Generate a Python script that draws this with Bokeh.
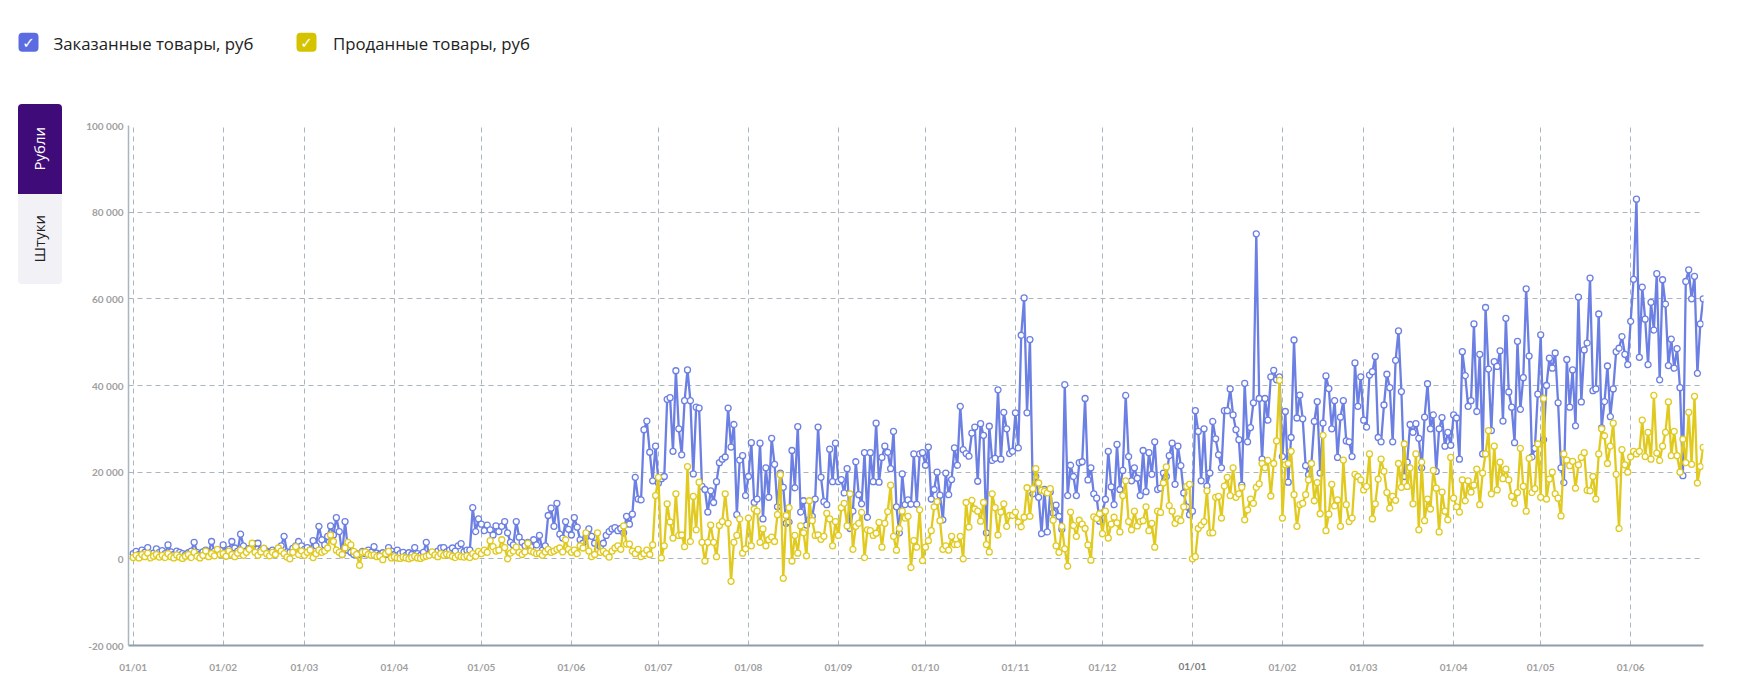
import pandas as pd
from bokeh.plotting import figure
from bokeh.layouts import column, row
from bokeh.models import (Range1d, FixedTicker, DatetimeTickFormatter, Div, DatetimeAxis,
                          ColumnDataSource, Quad)
from bokeh.core.properties import value
from bokeh.embed import file_html
from bokeh.resources import INLINE

START_DATE = "2022-01-01"
MONTH_TICKS_FROM = "2022-01-01"
MONTH_TICKS_TO = "2023-06-01"
YEAR_TICK = "2023-01-01"
Y_TICKS = [-20000, 0, 20000, 40000, 60000, 80000, 100000]
SERIES_NAMES = ["Заказанные товары, руб", "Проданные товары, руб"]
TAB_NAMES = ["Рубли", "Штуки"]

# Ordered goods, thousand rubles per day
ordered_2022_01 = [1.2, 1.7, 1.0, 2.0, 1.5, 2.6, 1.0, 1.3, 2.3, 1.5, 1.9, 1.2, 3.2, 1.6, 1.0, 1.8,
                   1.5, 1.2, 0.9, 1.4, 1.8, 3.8, 1.5, 1.0, 1.6, 2.0, 1.4, 4.0, 1.8, 1.3, 2.0]
ordered_2022_02 = [3.2, 1.6, 2.2, 4.0, 2.5, 1.8, 5.7, 3.0, 1.8, 2.4, 2.6, 3.5, 3.6, 2.0, 2.4, 1.8,
                   1.5, 2.0, 1.6, 2.2, 3.0, 5.2, 1.6, 1.5, 2.4, 3.0, 4.0, 3.0]
ordered_2022_03 = [2.2, 2.6, 2.0, 4.2, 3.0, 7.5, 4.4, 3.2, 5.2, 7.6, 5.5, 9.5, 6.3, 1.0, 8.6, 2.0,
                   1.5, 1.0, 1.2, 1.0, 1.7, 1.2, 2.0, 1.5, 2.8, 1.3, 1.0, 1.4, 1.0, 2.6, 1.8]
ordered_2022_04 = [1.0, 2.0, 1.2, 1.5, 0.8, 1.4, 1.0, 2.6, 1.2, 0.8, 1.5, 3.8, 1.0, 1.2, 1.5, 1.8,
                   2.5, 2.6, 1.6, 2.0, 2.5, 1.8, 3.0, 3.5, 1.6, 2.0, 2.0, 11.8, 6.3, 9.2]
ordered_2022_05 = [8.0, 6.5, 7.8, 6.7, 5.5, 7.6, 6.3, 7.5, 8.6, 6.0, 3.8, 3.2, 8.6, 5.0, 3.8, 3.0,
                   3.8, 2.8, 4.4, 3.2, 5.4, 2.0, 3.0, 10.0, 11.7, 7.5, 12.8, 5.7, 4.8, 8.6, 6.8]
ordered_2022_06 = [5.5, 9.5, 7.3, 4.4, 3.6, 5.0, 6.9, 5.2, 3.6, 2.0, 2.8, 3.6, 5.4, 6.3, 6.9, 7.2,
                   6.5, 7.0, 6.0, 9.8, 8.0, 10.3, 18.8, 13.8, 13.6, 29.8, 31.8, 24.6, 18.0, 26.0]
ordered_2022_07 = [17.5, 18.5, 19.0, 36.8, 37.2, 24.8, 43.4, 30.0, 24.0, 36.5, 43.6, 36.5, 19.6,
                   35.0, 34.8, 16.7, 16.0, 10.8, 15.7, 13.0, 17.8, 22.2, 23.0, 23.5, 34.8, 25.8,
                   31.0, 10.2, 22.8, 23.8, 14.6]
ordered_2022_08 = [19.0, 26.8, 13.0, 13.8, 26.7, 9.2, 21.0, 14.2, 27.8, 21.8, 12.0, 19.8, 16.5, 8.2,
                   8.5, 25.0, 16.4, 30.5, 10.8, 13.4, 7.8, 9.0, 9.8, 13.8, 30.4, 18.8, 13.2, 12.5,
                   25.3, 17.8, 26.7]
ordered_2022_09 = [17.8, 18.3, 15.2, 20.8, 7.0, 11.0, 22.4, 14.8, 12.7, 24.5, 9.6, 24.5, 17.8, 31.3,
                   17.7, 23.4, 26.0, 24.6, 20.8, 29.4, 12.0, 6.0, 19.6, 12.5, 13.6, 12.6, 24.2,
                   12.6, 24.2, 24.5]
ordered_2022_10 = [21.6, 25.8, 13.8, 16.0, 20.0, 14.7, 9.0, 19.8, 14.8, 18.3, 25.6, 21.6, 35.2, 25.2,
                   24.3, 23.7, 29.0, 30.4, 17.9, 31.2, 28.5, 6.0, 30.6, 22.7, 23.2, 39.0, 23.0,
                   33.8, 30.0, 24.3, 24.8]
ordered_2022_11 = [33.7, 25.6, 51.6, 60.2, 33.7, 50.6, 15.0, 19.0, 14.2, 5.8, 16.0, 6.2, 15.4, 10.6,
                   12.4, 9.8, 6.8, 40.2, 14.6, 21.6, 19.0, 14.6, 22.2, 22.4, 37.0, 18.2, 21.0,
                   15.0, 14.0, 8.7]
ordered_2022_12 = [10.6, 13.7, 24.8, 16.6, 12.5, 26.4, 16.0, 20.4, 37.7, 23.6, 18.0, 21.0, 18.6,
                   14.6, 25.0, 15.5, 24.5, 19.5, 27.0, 16.0, 16.3, 19.8, 19.0, 23.8, 26.7, 17.2,
                   26.0, 21.5, 15.2, 12.0, 10.2]
ordered_2023_01 = [11.0, 34.2, 29.4, 18.0, 30.0, 16.8, 19.8, 31.7, 27.7, 24.0, 21.0, 34.2, 34.2,
                   39.2, 33.2, 29.8, 27.5, 17.0, 40.5, 27.0, 30.3, 36.0, 75.0, 37.0, 23.0, 37.0,
                   32.0, 42.0, 43.5, 41.3, 42.0]
ordered_2023_02 = [23.6, 34.0, 17.7, 28.0, 50.5, 32.5, 37.8, 32.3, 21.5, 19.4, 22.0, 31.7, 36.3,
                   19.8, 31.3, 42.2, 39.3, 30.0, 36.5, 23.4, 32.7, 36.5, 27.2, 27.0, 23.6, 45.2,
                   35.2, 42.0]
ordered_2023_03 = [32.0, 30.4, 42.4, 43.2, 46.7, 28.0, 27.0, 35.5, 42.6, 39.5, 27.0, 45.8, 52.6,
                   38.6, 19.0, 22.3, 31.0, 29.2, 31.2, 27.8, 21.0, 32.7, 40.4, 30.0, 33.2, 20.2,
                   30.0, 32.6, 26.0, 29.2, 26.2]
ordered_2023_04 = [33.2, 32.5, 23.0, 47.8, 42.3, 35.2, 36.5, 54.2, 34.0, 47.2, 24.2, 58.0, 43.8,
                   29.6, 45.5, 44.4, 48.0, 31.8, 55.5, 38.5, 35.0, 26.8, 50.2, 34.5, 41.8, 62.3,
                   46.8, 23.5, 25.5, 38.0]
ordered_2023_05 = [51.7, 27.5, 40.0, 46.3, 44.0, 47.5, 36.0, 21.0, 17.6, 46.0, 35.0, 43.6, 30.7,
                   60.4, 36.2, 48.2, 49.8, 64.8, 38.8, 39.2, 56.5, 30.2, 36.3, 44.5, 32.8, 39.2,
                   47.8, 48.6, 51.3, 47.2, 44.8]
ordered_2023_06 = [54.8, 64.5, 83.0, 46.5, 62.7, 55.3, 44.8, 59.2, 52.8, 65.8, 41.3, 64.4, 58.8,
                   44.6, 50.7, 44.0, 48.5, 39.5, 19.2, 64.0, 66.7, 60.0, 65.2, 42.8, 54.2, 60.0]

# Sold goods, thousand rubles per day
sold_2022_01 = [0.3, 0.8, 0.2, 1.0, 0.5, 1.3, 0.2, 0.6, 1.0, 0.4, 0.8, 0.3, 1.2, 0.5, 0.2, 0.9,
                0.4, 0.1, 0.6, 1.0, 0.3, 1.5, 0.6, 0.2, 0.8, 1.8, 0.5, 1.2, 0.7, 2.2, 1.0]
sold_2022_02 = [1.2, 0.6, 1.8, 1.0, 0.5, 1.3, 2.0, 0.8, 1.5, 2.2, 3.6, 1.5, 0.8, 1.6, 2.4, 1.2,
                0.7, 1.5, 1.0, 2.5, 1.8, 1.2, 0.4, 0.0, 1.5, 2.8, 1.0, 1.8]
sold_2022_03 = [0.8, 1.5, 2.0, 0.3, 1.2, 2.0, 1.5, 1.8, 2.5, 5.5, 4.0, 2.0, 1.5, 1.0, 2.5, 3.8,
                3.2, 1.7, 1.0, -1.5, 1.5, 1.6, 1.0, 0.8, 0.9, 0.5, 0.6, -0.2, 1.2, 1.7, 0.2]
sold_2022_04 = [0.5, 0.2, 0.1, 0.4, 0.2, 0.0, 0.3, 0.6, 0.2, 0.1, 0.4, 0.6, 0.8, 1.6, 0.9, 0.5,
                1.2, 0.8, 1.1, 0.9, 0.6, 0.3, 0.8, 0.5, 0.4, 0.7, 0.3, 1.2, 0.6, 1.7]
sold_2022_05 = [1.2, 2.0, 1.5, 4.2, 2.8, 1.8, 2.0, 4.4, 2.6, 0.0, 1.3, 1.8, 2.7, 1.5, 1.0, 1.6,
                3.6, 1.8, 1.5, 1.2, 1.3, 0.8, 1.6, 2.2, 1.5, 1.8, 2.2, 2.5, 1.6, 4.4, 2.2]
sold_2022_06 = [1.5, 2.0, 1.2, 3.0, 2.5, 6.0, 1.8, 0.5, 1.0, 6.0, 1.5, 1.8, 1.2, 0.4, 1.8, 2.5,
                3.0, 2.2, 7.6, 3.4, 3.4, 1.8, 1.2, 2.2, 0.5, 1.2, 2.0, 1.0, 3.2, 14.6]
sold_2022_07 = [18.8, 0.2, 3.0, 12.7, 8.5, 4.8, 15.0, 5.4, 5.5, 2.8, 21.3, 4.0, 14.4, 6.7, 17.7,
                3.8, -0.5, 3.8, 7.8, 3.8, 0.5, 7.7, 8.6, 15.0, 8.2, -5.2, 3.8, 5.4, 9.2, 1.3, 2.3]
sold_2022_08 = [9.4, 3.0, 11.5, 11.0, 3.8, 6.9, 3.0, 4.4, 5.0, 4.0, 10.2, 19.4, -4.5, 10.0, 11.8,
                -0.5, 5.4, 1.3, 7.6, 6.0, 0.7, 13.4, 8.8, 5.4, 5.5, 4.5, 5.2, 10.5, 9.2, 3.0, 8.6]
sold_2022_09 = [5.4, 11.8, 12.8, 7.6, 15.0, 2.2, 7.5, 8.2, 10.7, 0.3, 6.7, 6.5, 5.4, 5.9, 8.4, 2.7,
                8.2, 10.9, 17.0, 5.2, 2.0, 7.0, 11.0, 9.4, 9.8, -2.0, 4.2, 2.7, 11.3, -0.4]
sold_2022_10 = [2.7, 4.2, 6.5, 12.0, 13.2, 8.8, 2.2, 3.0, 2.0, 5.2, 3.3, 3.3, 5.2, 0.0, 13.0, 7.3,
                13.5, 11.5, 11.0, 8.7, 13.0, 3.3, 1.6, 15.0, 11.8, 5.5, 10.8, 12.7, 7.5, 10.0, 10.0]
sold_2022_11 = [10.8, 8.5, 7.4, 9.6, 16.4, 9.8, 16.2, 20.8, 17.5, 15.8, 15.6, 15.2, 16.2, 8.9, 3.0,
                1.5, 7.5, 2.3, -1.7, 10.8, 7.7, 5.2, 8.9, 8.0, 7.0, 3.2, -0.3, 9.7, 9.3, 10.4]
sold_2022_12 = [5.8, 11.0, 4.8, 8.0, 9.6, 8.3, 6.2, 14.6, 18.0, 8.6, 6.7, 11.0, 7.6, 8.6, 8.8, 12.0,
                6.5, 8.2, 2.7, 11.0, 10.7, 17.5, 21.2, 12.3, 11.0, 8.2, 9.2, 8.8, 12.0, 16.7, 17.2]
sold_2023_01 = [0.0, 0.5, 7.0, 7.8, 8.6, 15.7, 6.0, 6.0, 14.2, 14.4, 9.4, 16.8, 18.8, 14.6, 21.0,
                14.2, 15.0, 16.5, 9.0, 11.3, 13.8, 12.8, 16.5, 17.3, 22.0, 21.0, 22.7, 14.5, 22.0,
                27.2, 41.2]
sold_2023_02 = [9.4, 21.7, 22.0, 24.8, 14.8, 7.5, 12.5, 12.8, 14.8, 18.2, 22.0, 13.4, 17.6, 10.4,
                28.5, 6.5, 10.3, 17.2, 12.2, 13.6, 7.5, 22.8, 12.5, 8.6, 9.4, 19.5, 19.0, 18.2]
sold_2023_03 = [15.9, 16.7, 24.2, 9.2, 12.7, 18.4, 23.0, 20.2, 15.3, 11.7, 14.4, 13.5, 22.0, 16.5,
                26.5, 16.7, 21.0, 12.7, 24.2, 6.7, 22.3, 8.8, 13.8, 11.5, 20.4, 16.3, 6.2, 15.4,
                11.0, 9.0, 23.4]
sold_2023_04 = [14.0, 12.0, 10.8, 18.2, 13.4, 18.0, 15.4, 17.0, 20.7, 12.5, 19.8, 24.2, 29.6, 15.0,
                26.0, 15.9, 22.3, 18.5, 20.7, 18.2, 14.4, 12.8, 15.3, 25.5, 16.7, 11.0, 23.2, 15.3,
                16.2, 26.5]
sold_2023_05 = [14.2, 37.0, 13.8, 18.4, 20.0, 15.0, 14.0, 9.9, 24.2, 22.8, 21.5, 22.5, 16.3, 21.7,
                23.4, 24.5, 15.8, 15.7, 19.0, 13.8, 24.2, 30.0, 28.4, 22.0, 26.0, 31.3, 19.5, 7.0,
                25.2, 21.7, 20.0]
sold_2023_06 = [23.5, 24.8, 24.2, 24.8, 32.0, 23.6, 29.2, 23.0, 37.7, 24.4, 22.7, 26.0, 29.2, 36.2,
                23.8, 29.4, 23.8, 20.0, 27.6, 22.2, 33.8, 21.8, 37.5, 17.5, 21.3, 25.7]

ordered_k = (ordered_2022_01 + ordered_2022_02 + ordered_2022_03 + ordered_2022_04 +
             ordered_2022_05 + ordered_2022_06 + ordered_2022_07 + ordered_2022_08 +
             ordered_2022_09 + ordered_2022_10 + ordered_2022_11 + ordered_2022_12 +
             ordered_2023_01 + ordered_2023_02 + ordered_2023_03 + ordered_2023_04 +
             ordered_2023_05 + ordered_2023_06)
sold_k = (sold_2022_01 + sold_2022_02 + sold_2022_03 + sold_2022_04 + sold_2022_05 +
          sold_2022_06 + sold_2022_07 + sold_2022_08 + sold_2022_09 + sold_2022_10 +
          sold_2022_11 + sold_2022_12 + sold_2023_01 + sold_2023_02 + sold_2023_03 +
          sold_2023_04 + sold_2023_05 + sold_2023_06)

ordered = [v * 1000 for v in ordered_k]
sold = [v * 1000 for v in sold_k]
dates_o = pd.date_range(START_DATE, periods=len(ordered), freq="D")
dates_s = pd.date_range(START_DATE, periods=len(sold), freq="D")

BLUE = "#6c7fe2"
YELLOW = "#e1ca1f"
GRID = "#aab6bf"
HAS_RADIUS = "border_radius" in Quad.properties()


def ms(ts):
    return pd.Timestamp(ts).value / 1e6


# ---------- legend strip (pixel coordinates, y downwards) ----------
LEG_W, LEG_H = 1734, 88
leg = figure(width=LEG_W, height=LEG_H, x_range=Range1d(0, LEG_W), y_range=Range1d(LEG_H, 0),
             output_backend="svg", toolbar_location=None, min_border=0,
             x_axis_location=None, y_axis_location=None)
leg.xgrid.visible = False
leg.ygrid.visible = False
leg.outline_line_color = None
leg.background_fill_color = "white"
leg.border_fill_color = "white"
box_kw = dict(line_color=None)
if HAS_RADIUS:
    box_kw["border_radius"] = 4
leg.quad(left=[18, 296], right=[38, 316], top=[32.3, 32.3], bottom=[51.3, 51.3],
         fill_color=["#5a6ce0", "#d6c300"], **box_kw)
leg.text(x=[28, 306], y=[42.5, 42.5], text=["✓", "✓"], text_align="center",
         text_baseline="middle", text_color="white", text_font=value("DejaVu Sans"),
         text_font_size=value("15px"))
leg.text(x=[53, 332.5], y=[43, 43], text=SERIES_NAMES, text_align="left",
         text_baseline="middle", text_color="#222222", text_font=value("Open Sans"),
         text_font_size=value("16.8px"))

# ---------- side tabs (HTML) ----------
TAB_W, MAIN_H = 70, 593
span_css = ("display:inline-block;transform:rotate(-90deg);font-family:'Open Sans';"
            "font-size:15px;white-space:nowrap;")
tab_html = (
    f'<div style="position:relative;width:{TAB_W}px;height:{MAIN_H}px;margin:0;padding:0;">'
    '<div style="position:absolute;left:18px;top:16px;width:44px;height:90px;'
    'background:#3f0b79;border-radius:4px 4px 0 0;display:flex;align-items:center;'
    f'justify-content:center;"><span style="{span_css}color:#ffffff;">{TAB_NAMES[0]}</span></div>'
    '<div style="position:absolute;left:18px;top:106px;width:44px;height:90px;'
    'background:#f1f1f6;border-radius:0 0 4px 4px;display:flex;align-items:center;'
    f'justify-content:center;"><span style="{span_css}color:#222222;">{TAB_NAMES[1]}</span></div>'
    '</div>'
)
tabs = Div(text=tab_html, width=TAB_W, height=MAIN_H, margin=0)

# ---------- main chart ----------
DAY = 86400000.0
x_start = ms(START_DATE) - 1.62 * DAY
x_end = ms(max(dates_o[-1], dates_s[-1])) + 0.1 * DAY

p = figure(width=1664, height=MAIN_H, x_axis_type="datetime",
           x_range=Range1d(x_start, x_end), y_range=Range1d(-20000, 100000),
           output_backend="svg", toolbar_location=None,
           min_border_left=58, min_border_right=31, min_border_top=37, min_border_bottom=36)
p.outline_line_color = None
p.background_fill_color = "white"
p.border_fill_color = "white"

fmt = dict(days="%d/%m", months="%d/%m", years="%d/%m", hours="%d/%m", minutes="%d/%m")
month_ticks = [ms(t) for t in pd.date_range(MONTH_TICKS_FROM, MONTH_TICKS_TO, freq="MS")]
year_ms = ms(YEAR_TICK)
p.xaxis.ticker = FixedTicker(ticks=month_ticks)
p.xaxis.formatter = DatetimeTickFormatter(**fmt)
p.xaxis.major_label_overrides = {year_ms: ""}
p.yaxis.ticker = FixedTicker(ticks=Y_TICKS)
p.yaxis.major_label_overrides = {v: f"{v:,}".replace(",", " ") for v in Y_TICKS}

for ax in (p.xaxis, p.yaxis):
    ax.major_tick_line_color = None
    ax.minor_tick_line_color = None
    ax.major_tick_out = 0
    ax.major_tick_in = 0
    ax.minor_tick_out = 0
    ax.major_label_text_font = "Lato"
    ax.major_label_text_font_style = "bold"
    ax.major_label_text_font_size = "10px"
    ax.major_label_text_color = "#a0a0a0"
p.xaxis.major_label_standoff = 15
p.yaxis.major_label_standoff = 5
p.xaxis.axis_line_color = "#8f9ea8"
p.xaxis.axis_line_width = 2
p.yaxis.axis_line_color = "#a9b6bf"
p.yaxis.axis_line_width = 1.5

# second (stacked) axis that only carries the year-start tick label, drawn darker
year_axis = DatetimeAxis(ticker=FixedTicker(ticks=[year_ms]),
                         formatter=DatetimeTickFormatter(**fmt),
                         axis_line_color=None, major_tick_line_color=None,
                         minor_tick_line_color=None, major_tick_out=0, major_tick_in=0,
                         minor_tick_out=0, major_label_standoff=-16,
                         major_label_text_font="Lato", major_label_text_font_style="bold",
                         major_label_text_font_size="10px", major_label_text_color="#7c7c7c")
p.add_layout(year_axis, "below")

for g in (p.xgrid, p.ygrid):
    g.grid_line_color = GRID
    g.grid_line_dash = "5 4"
    g.grid_line_width = 1

src_o = ColumnDataSource(dict(x=dates_o, y=ordered))
src_s = ColumnDataSource(dict(x=dates_s, y=sold))
p.line("x", "y", source=src_o, line_color=BLUE, line_width=2.3)
p.scatter("x", "y", source=src_o, marker="circle", size=6, fill_color="white",
          line_color=BLUE, line_width=1.3)
p.line("x", "y", source=src_s, line_color=YELLOW, line_width=2.3)
p.scatter("x", "y", source=src_s, marker="circle", size=6, fill_color="white",
          line_color=YELLOW, line_width=1.3)

layout = column(leg, row(tabs, p, spacing=0), spacing=0)
open("out.html", "w").write(file_html(layout, INLINE))
